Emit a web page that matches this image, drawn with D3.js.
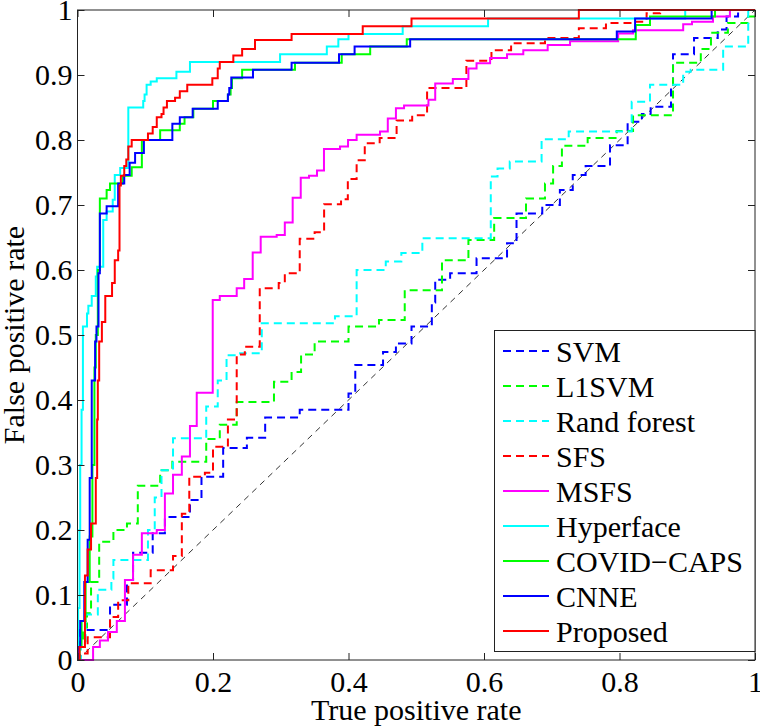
<!DOCTYPE html>
<html lang="en">
<head>
<meta charset="UTF-8">
<title>ROC curves</title>
<script src="https://d3js.org/d3.v7.min.js"></script>
<style>
  body { margin: 0; background: #fff; }
  svg { display: block; font-family: "Liberation Serif", "Times New Roman", serif; }
</style>
</head>
<body>
<svg id="chart" width="760" height="726"></svg>
<script>
// series names as in the legend
const names = ["SVM", "L1SVM", "Rand forest", "SFS", "MSFS", "Hyperface", "COVID\u2212CAPS", "CNNE", "Proposed"];

// ROC staircases, [x, y] where the curve steps up to a new level
const svm = [[0,0],[0.004,0.046],[0.048,0.085],[0.073,0.123],[0.082,0.165],[0.111,0.195],[0.129,0.22],[0.166,0.246],[0.183,0.282],[0.215,0.326],[0.25,0.342],[0.277,0.373],[0.328,0.385],[0.4,0.41],[0.41,0.454],[0.451,0.474],[0.47,0.487],[0.493,0.513],[0.523,0.55],[0.528,0.585],[0.55,0.595],[0.589,0.618],[0.634,0.641],[0.648,0.687],[0.686,0.7],[0.712,0.723],[0.731,0.746],[0.75,0.76],[0.786,0.792],[0.812,0.828],[0.833,0.84],[0.846,0.851],[0.876,0.88],[0.879,0.932],[0.91,0.957],[0.945,0.97],[0.958,0.99],[0.975,1],[1,1]];
const l1svm = [[0,0],[0.002,0.03],[0.008,0.05],[0.014,0.072],[0.02,0.12],[0.032,0.182],[0.053,0.2],[0.073,0.21],[0.089,0.268],[0.122,0.292],[0.14,0.305],[0.19,0.34],[0.21,0.362],[0.235,0.397],[0.29,0.428],[0.316,0.443],[0.33,0.47],[0.35,0.49],[0.4,0.513],[0.445,0.523],[0.483,0.569],[0.538,0.615],[0.577,0.646],[0.615,0.68],[0.662,0.71],[0.69,0.733],[0.702,0.76],[0.715,0.791],[0.753,0.803],[0.796,0.814],[0.82,0.838],[0.879,0.919],[0.92,0.94],[0.935,0.965],[0.96,0.98],[0.99,0.99],[1,1]];
const randForest = [[0,0],[0.005,0.02],[0.012,0.07],[0.03,0.108],[0.05,0.125],[0.053,0.154],[0.104,0.2],[0.114,0.25],[0.124,0.292],[0.141,0.341],[0.19,0.39],[0.207,0.43],[0.22,0.469],[0.24,0.472],[0.272,0.518],[0.38,0.529],[0.412,0.6],[0.455,0.613],[0.478,0.626],[0.509,0.649],[0.61,0.744],[0.62,0.756],[0.638,0.767],[0.685,0.801],[0.725,0.813],[0.818,0.859],[0.845,0.885],[0.894,0.905],[0.905,0.908],[0.953,0.944],[0.99,1],[1,1]];
const sfs = [[0,0],[0.003,0.01],[0.015,0.035],[0.048,0.066],[0.06,0.092],[0.075,0.118],[0.108,0.138],[0.141,0.16],[0.154,0.225],[0.165,0.282],[0.188,0.288],[0.2,0.328],[0.222,0.37],[0.235,0.47],[0.247,0.482],[0.269,0.572],[0.297,0.58],[0.306,0.595],[0.328,0.648],[0.35,0.658],[0.364,0.701],[0.389,0.709],[0.399,0.74],[0.412,0.769],[0.424,0.795],[0.446,0.803],[0.471,0.83],[0.494,0.838],[0.516,0.88],[0.574,0.922],[0.611,0.938],[0.64,0.949],[0.69,0.957],[0.74,0.972],[0.78,0.98],[0.82,0.982],[0.84,0.995],[0.86,1],[1,1]];
const msfs = [[0,0],[0.023,0.02],[0.033,0.03],[0.045,0.043],[0.058,0.06],[0.07,0.123],[0.082,0.162],[0.095,0.195],[0.117,0.2],[0.129,0.256],[0.141,0.285],[0.154,0.313],[0.166,0.36],[0.176,0.411],[0.1996,0.554],[0.21,0.56],[0.235,0.572],[0.246,0.586],[0.2586,0.627],[0.2704,0.651],[0.294,0.654],[0.306,0.673],[0.3176,0.711],[0.3295,0.742],[0.3417,0.745],[0.3535,0.753],[0.3638,0.786],[0.3875,0.79],[0.3993,0.8],[0.412,0.808],[0.4465,0.813],[0.458,0.833],[0.47,0.849],[0.482,0.853],[0.518,0.862],[0.528,0.887],[0.554,0.894],[0.577,0.91],[0.589,0.918],[0.609,0.926],[0.634,0.932],[0.658,0.938],[0.694,0.946],[0.727,0.952],[0.798,0.964],[0.82,0.969],[0.894,0.978],[0.907,0.982],[0.938,0.99],[0.963,1],[1,1]];
const hyperface = [[0,0],[0.001,0.08],[0.003,0.2],[0.004,0.3],[0.006,0.385],[0.008,0.513],[0.014,0.533],[0.016,0.545],[0.021,0.56],[0.027,0.59],[0.029,0.605],[0.038,0.677],[0.043,0.69],[0.052,0.708],[0.055,0.746],[0.063,0.757],[0.075,0.85],[0.097,0.86],[0.099,0.87],[0.102,0.885],[0.108,0.89],[0.117,0.895],[0.146,0.905],[0.166,0.92],[0.299,0.932],[0.368,0.944],[0.385,0.955],[0.4,0.963],[0.48,0.975],[0.606,0.987],[0.897,1],[1,1]];
const covidCaps = [[0,0],[0.003,0.02],[0.006,0.06],[0.012,0.12],[0.018,0.19],[0.022,0.3],[0.025,0.45],[0.027,0.5],[0.03,0.6],[0.033,0.71],[0.043,0.723],[0.048,0.733],[0.067,0.745],[0.08,0.758],[0.095,0.8],[0.122,0.815],[0.151,0.825],[0.158,0.835],[0.171,0.848],[0.2,0.86],[0.222,0.87],[0.226,0.88],[0.228,0.895],[0.243,0.908],[0.321,0.919],[0.39,0.932],[0.432,0.944],[0.486,0.955],[0.824,0.977],[0.845,0.99],[0.941,1],[1,1]];
const cnne = [[0,0],[0.002,0.02],[0.004,0.06],[0.01,0.12],[0.015,0.185],[0.018,0.28],[0.021,0.43],[0.026,0.49],[0.028,0.513],[0.031,0.595],[0.033,0.687],[0.043,0.698],[0.06,0.733],[0.069,0.746],[0.077,0.765],[0.085,0.78],[0.098,0.8],[0.14,0.825],[0.151,0.835],[0.17,0.848],[0.207,0.86],[0.222,0.87],[0.224,0.88],[0.227,0.896],[0.259,0.908],[0.316,0.919],[0.386,0.932],[0.409,0.944],[0.491,0.955],[0.796,0.967],[0.823,0.987],[0.936,1],[1,1]];
const proposed = [[0,0],[0.003,0.02],[0.011,0.13],[0.015,0.17],[0.02,0.21],[0.027,0.28],[0.029,0.37],[0.03,0.43],[0.032,0.49],[0.036,0.52],[0.041,0.56],[0.051,0.58],[0.055,0.615],[0.06,0.63],[0.062,0.73],[0.064,0.745],[0.069,0.76],[0.072,0.77],[0.075,0.79],[0.08,0.8],[0.104,0.81],[0.111,0.82],[0.117,0.835],[0.124,0.84],[0.127,0.85],[0.132,0.86],[0.144,0.865],[0.151,0.875],[0.162,0.885],[0.199,0.895],[0.207,0.91],[0.21,0.92],[0.23,0.93],[0.243,0.94],[0.262,0.954],[0.316,0.963],[0.421,0.975],[0.493,0.987],[0.74,1],[1,1]];

const xTicks = [0, 0.2, 0.4, 0.6, 0.8, 1];
const yTicks = [0, 0.1, 0.2, 0.3, 0.4, 0.5, 0.6, 0.7, 0.8, 0.9, 1];

const allSeries = [svm, l1svm, randForest, sfs, msfs, hyperface, covidCaps, cnne, proposed];
const colors = ["#0000ff", "#00ff00", "#00ffff", "#ff0000", "#ff00ff", "#00ffff", "#00ff00", "#0000ff", "#ff0000"];
const dashed = [true, true, true, true, false, false, false, false, false];

const svg = d3.select("#chart");
const padL = 77.5, padR = 755, padT = 10, padB = 660;

const x = d3.scaleLinear().domain([0, 1]).range([padL, padR]);
const y = d3.scaleLinear().domain([0, 1]).range([padB, padT]);
const fmt = d => String(+d.toFixed(1));

// chance diagonal
svg.append("line")
    .attr("x1", x(0)).attr("y1", y(0))
    .attr("x2", x(1)).attr("y2", y(1))
    .attr("stroke", "#000").attr("stroke-width", 0.8)
    .attr("stroke-dasharray", "6,5");

const line = d3.line()
    .x(d => x(d[0]))
    .y(d => y(d[1]))
    .curve(d3.curveStepAfter);

allSeries.forEach(function(s, i) {
    svg.append("path")
        .attr("d", line(s))
        .attr("fill", "none")
        .attr("stroke", colors[i])
        .attr("stroke-width", 2)
        .attr("stroke-dasharray", dashed[i] ? "8,5" : null);
});

// axes, ticks pointing inward on all four sides
function styleAxis(g) {
    g.select(".domain").remove();
    g.selectAll(".tick line").attr("stroke", "#222");
    g.selectAll("text").attr("fill", "#000").style("font-size", "30px")
        .style("font-family", "'Liberation Serif', 'Times New Roman', serif");
}

svg.append("g")
    .attr("transform", "translate(0," + padB + ")")
    .call(d3.axisBottom(x).tickValues(xTicks).tickFormat(fmt).tickSizeInner(-7).tickSizeOuter(0).tickPadding(11))
    .call(styleAxis);
svg.append("g")
    .attr("transform", "translate(0," + padT + ")")
    .call(d3.axisTop(x).tickValues(xTicks).tickFormat("").tickSizeInner(-7).tickSizeOuter(0))
    .call(styleAxis);
svg.append("g")
    .attr("transform", "translate(" + padL + ",0)")
    .call(d3.axisLeft(y).tickValues(yTicks).tickFormat(fmt).tickSizeInner(-7).tickSizeOuter(0).tickPadding(5))
    .call(styleAxis);
svg.append("g")
    .attr("transform", "translate(" + padR + ",0)")
    .call(d3.axisRight(y).tickValues(yTicks).tickFormat("").tickSizeInner(-7).tickSizeOuter(0))
    .call(styleAxis);

svg.append("rect")
    .attr("x", padL).attr("y", padT)
    .attr("width", padR - padL).attr("height", padB - padT)
    .attr("fill", "none").attr("stroke", "#222").attr("stroke-width", 1);

svg.append("text")
    .attr("x", (padL + padR) / 2).attr("y", 720)
    .attr("text-anchor", "middle")
    .style("font-size", "30px")
    .text("True positive rate");

svg.append("text")
    .attr("transform", "translate(24," + (padT + padB) / 2 + ") rotate(-90)")
    .attr("text-anchor", "middle")
    .style("font-size", "30px")
    .text("False positive rate");

// legend
const legend = svg.append("g");
legend.append("rect")
    .attr("x", 494.5).attr("y", 330.5)
    .attr("width", 260.5).attr("height", 321)
    .attr("fill", "#fff").attr("stroke", "#222").attr("stroke-width", 1);

names.forEach(function(n, i) {
    const base = 362 + i * 35;
    legend.append("line")
        .attr("x1", 503).attr("x2", 549)
        .attr("y1", base - 11).attr("y2", base - 11)
        .attr("stroke", colors[i]).attr("stroke-width", 2)
        .attr("stroke-dasharray", dashed[i] ? "8,5" : null);
    legend.append("text")
        .attr("x", 556).attr("y", base)
        .style("font-size", "30px")
        .text(n);
});
</script>
</body>
</html>
